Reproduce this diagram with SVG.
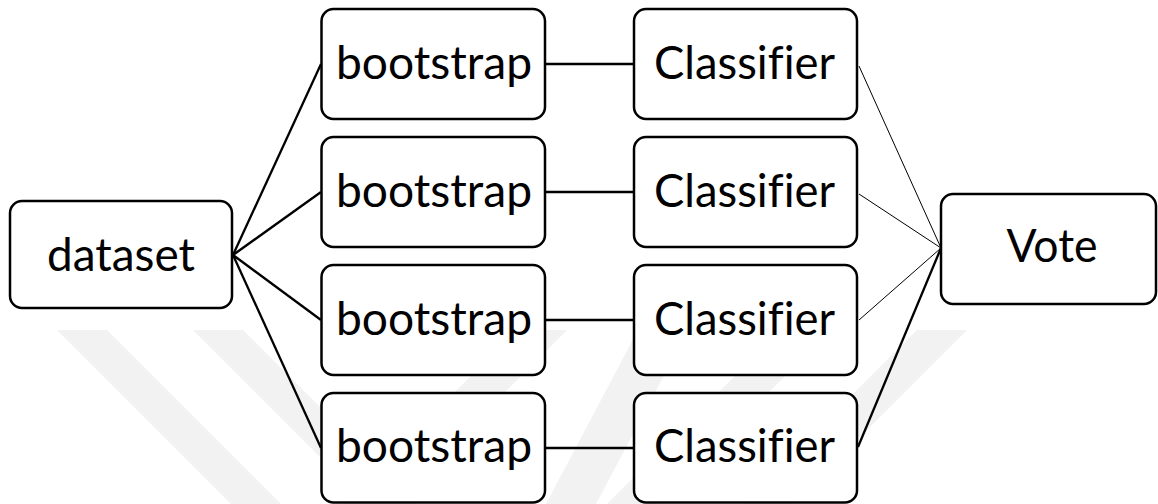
<svg xmlns="http://www.w3.org/2000/svg" width="1158" height="504" viewBox="0 0 1158 504">
  <style>
    .box { fill: #ffffff; stroke: #000000; stroke-width: 2.5; }
    .lbl { font-family: Lato, "Open Sans", "Liberation Sans", sans-serif; font-size: 46px; fill: #000000; text-anchor: middle; font-variant-ligatures: none; }
    .edge { stroke: #000000; stroke-width: 2.3; fill: none; }
    .thin { stroke: #000000; stroke-width: 1; fill: none; }
    .wm { fill: #f2f2f2; }
  </style>
  <rect x="0" y="0" width="1158" height="504" fill="#ffffff"/>
  <g id="watermark">
    <polygon class="wm" points="57,330 107,330 281,504 231,504"/>
    <polygon class="wm" points="193,330 243,330 417,504 367,504"/>
    <polygon class="wm" points="517,330 567,330 393,504 343,504"/>
    <polygon class="wm" points="638,330 688,330 596,504 546,504"/>
    <polygon class="wm" points="781,330 831,330 657,504 607,504"/>
    <polygon class="wm" points="917,330 967,330 793,504 743,504"/>
  </g>
  <g id="connectors">
    <line class="edge" x1="233" y1="255" x2="321" y2="64"/>
    <line class="edge" x1="233" y1="255" x2="321" y2="192"/>
    <line class="edge" x1="233" y1="255" x2="321" y2="320"/>
    <line class="edge" x1="233" y1="255" x2="321" y2="448"/>
    <line class="edge" x1="545" y1="64" x2="634" y2="64"/>
    <line class="edge" x1="545" y1="192" x2="634" y2="192"/>
    <line class="edge" x1="545" y1="320" x2="634" y2="320"/>
    <line class="edge" x1="545" y1="448" x2="634" y2="448"/>
    <line class="thin" x1="859" y1="66" x2="941" y2="248"/>
    <line class="thin" x1="859" y1="194" x2="941" y2="248"/>
    <line class="thin" x1="859" y1="320" x2="941" y2="248"/>
    <line class="edge" x1="858" y1="447" x2="941" y2="248"/>
  </g>
  <g id="dataset">
    <rect class="box" x="10" y="201" width="222" height="107" rx="12"/>
    <text class="lbl" x="121" y="271" textLength="148" lengthAdjust="spacingAndGlyphs">dataset</text>
  </g>
  <g id="bootstrap1">
    <rect class="box" x="321.5" y="9" width="223.5" height="110" rx="12"/>
    <text class="lbl" x="434" y="79" textLength="196" lengthAdjust="spacingAndGlyphs">bootstrap</text>
  </g>
  <g id="bootstrap2">
    <rect class="box" x="321.5" y="137" width="223.5" height="110" rx="12"/>
    <text class="lbl" x="434" y="207" textLength="196" lengthAdjust="spacingAndGlyphs">bootstrap</text>
  </g>
  <g id="bootstrap3">
    <rect class="box" x="321.5" y="265" width="223.5" height="110" rx="12"/>
    <text class="lbl" x="434" y="335" textLength="196" lengthAdjust="spacingAndGlyphs">bootstrap</text>
  </g>
  <g id="bootstrap4">
    <rect class="box" x="321.5" y="393" width="223.5" height="109.5" rx="12"/>
    <text class="lbl" x="434" y="462" textLength="196" lengthAdjust="spacingAndGlyphs">bootstrap</text>
  </g>
  <g id="classifier1">
    <rect class="box" x="634" y="9" width="223" height="110" rx="12"/>
    <text class="lbl" x="744.5" y="79" textLength="181" lengthAdjust="spacingAndGlyphs">Classifier</text>
  </g>
  <g id="classifier2">
    <rect class="box" x="634" y="137" width="223" height="110" rx="12"/>
    <text class="lbl" x="744.5" y="207" textLength="181" lengthAdjust="spacingAndGlyphs">Classifier</text>
  </g>
  <g id="classifier3">
    <rect class="box" x="634" y="265" width="223" height="110" rx="12"/>
    <text class="lbl" x="744.5" y="335" textLength="181" lengthAdjust="spacingAndGlyphs">Classifier</text>
  </g>
  <g id="classifier4">
    <rect class="box" x="634" y="393" width="223" height="109.5" rx="12"/>
    <text class="lbl" x="744.5" y="462" textLength="181" lengthAdjust="spacingAndGlyphs">Classifier</text>
  </g>
  <g id="vote">
    <rect class="box" x="941" y="194" width="215" height="110" rx="12"/>
    <text class="lbl" x="1052" y="262" textLength="91" lengthAdjust="spacingAndGlyphs">Vote</text>
  </g>
</svg>
